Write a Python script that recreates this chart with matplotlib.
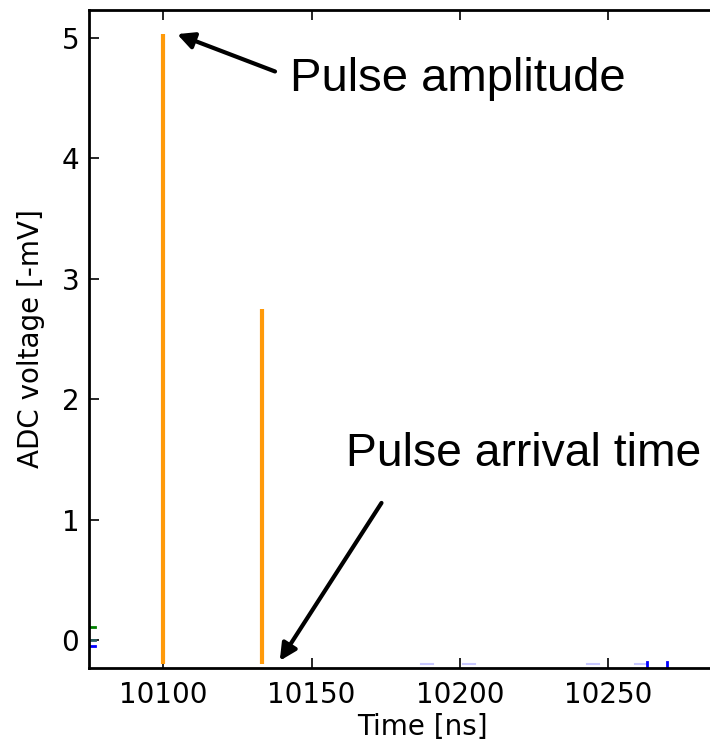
import matplotlib.pyplot as plt

# pulse traces (time in ns, voltage in -mV)
pulse_times = [10100.0, 10133.3]
pulse_lows = [-0.20, -0.20]
pulse_highs = [5.03, 2.75]

# tiny residual traces near the baseline
green_x = [10075.0, 10077.0]
green_y = [0.11, 0.11]
teal_x = [10075.0, 10077.0]
teal_y = [0.0, 0.0]
blue_x = [10075.0, 10077.0]
blue_y = [-0.05, -0.05]
faint_dash_x = [(10187, 10191), (10201, 10205), (10243, 10247), (10259, 10263)]
faint_dash_y = -0.20
blue_tick_x = [10263.0, 10269.7]

plt.rcParams['font.family'] = 'DejaVu Sans'
fig = plt.figure(figsize=(7.10, 7.42), dpi=100)
ax = fig.add_axes([0.1254, 0.0997, 0.94, 0.8868])

for t, lo, hi in zip(pulse_times, pulse_lows, pulse_highs):
    ax.plot([t, t], [lo, hi], color='#ff9a0a', linewidth=3, solid_capstyle='butt')

ax.plot(green_x, green_y, color='green', linewidth=2)
ax.plot(teal_x, teal_y, color='#2a6060', linewidth=2)
ax.plot(blue_x, blue_y, color='blue', linewidth=2)
for x0, x1 in faint_dash_x:
    ax.plot([x0, x1], [faint_dash_y, faint_dash_y], color='#c8c8ff', linewidth=1.5)
for x in blue_tick_x:
    ax.plot([x, x], [-0.18, -0.23], color='blue', linewidth=2)

ax.set_xlim(10075, 10300)
ax.set_ylim(-0.23, 5.23)
ax.set_xticks([10100, 10150, 10200, 10250])
ax.set_yticks([0, 1, 2, 3, 4, 5])
ax.tick_params(direction='in', length=7, width=1.2, labelsize=20,
               top=True, right=True, pad=9)
ax.tick_params(axis='y', pad=7)
for s in ax.spines.values():
    s.set_linewidth(2)

ax.set_xlabel('Time [ns]', fontsize=20, labelpad=3)
ax.set_ylabel('ADC voltage [-mV]', fontsize=20, labelpad=12)

arrow = dict(arrowstyle='-|>', color='black', lw=3, mutation_scale=25,
             shrinkA=0, shrinkB=0)
ax.text(10142.8, 4.66, 'Pulse amplitude', fontsize=34,
        family='Liberation Sans', va='center', ha='left')
ax.annotate('', xy=(10104.7, 5.03), xytext=(10137.7, 4.72), arrowprops=arrow)
ax.text(10161.5, 1.55, 'Pulse arrival time', fontsize=33.3,
        family='Liberation Sans', va='center', ha='left')
ax.annotate('', xy=(10139.3, -0.17), xytext=(10173.6, 1.14), arrowprops=arrow)

fig.savefig('out.png', dpi=100)
